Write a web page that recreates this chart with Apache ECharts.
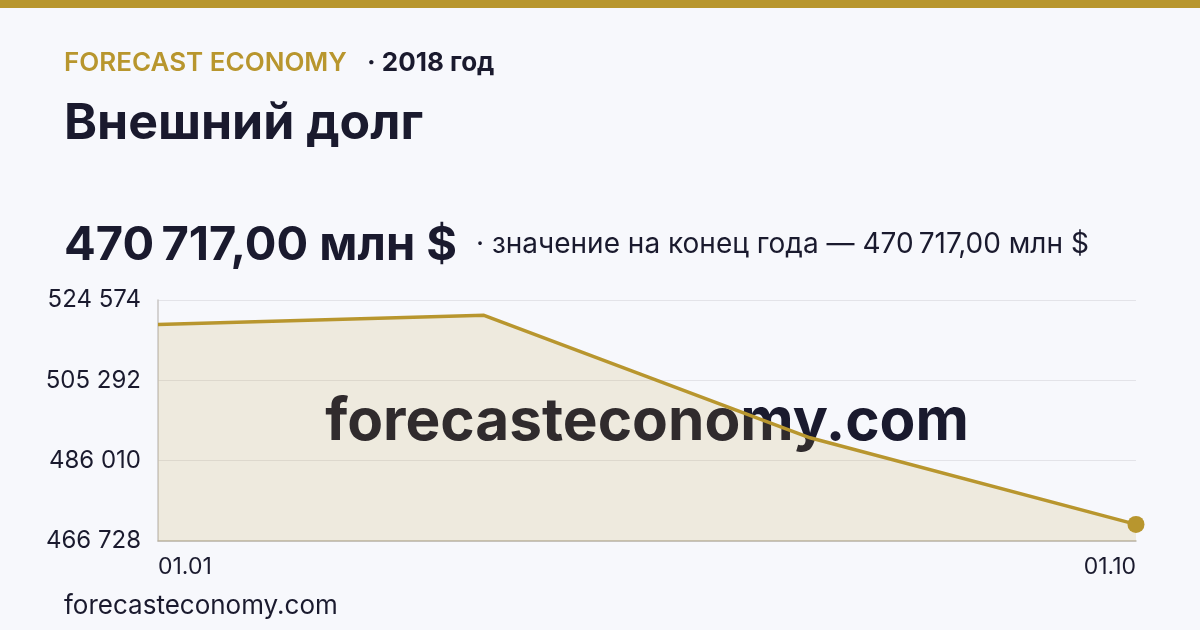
<!DOCTYPE html>
<html><head><meta charset="utf-8">
<script src="https://cdn.jsdelivr.net/npm/echarts@6/dist/echarts.min.js"></script>
<style>html,body{margin:0;padding:0;background:#F7F8FC}#c{width:1200px;height:630px}</style>
</head><body><div id="c"></div>
<script>
const categories = ['01.01', '01.04', '01.07', '01.10'];
const values = [518700, 520900, 491500, 470717];
const yTicks = [466728, 486010, 505292, 524574];
const brand = 'FORECAST ECONOMY';
const yearText = '· 2018 год';
const title = 'Внешний долг';
const bigValue = '470\u202F717,00 млн $';
const subText = '· значение на конец года — 470\u202F717,00 млн $';
const site = 'forecasteconomy.com';

const gold = '#B8962E', dark = '#1A1A2E', font = 'Inter';
const fmt = v => String(Math.round(v)).replace(/\B(?=(\d{3})+(?!\d))/g, ' ');

const chart = echarts.init(document.getElementById('c'));
chart.setOption({
  backgroundColor: '#F7F8FC',
  animation: false,
  textStyle: { fontFamily: font },
  grid: { left: 158, right: 64, top: 300, bottom: 89 },
  xAxis: {
    type: 'category', data: categories, boundaryGap: false,
    axisLine: { lineStyle: { color: '#BDB8AC', width: 1.5 } },
    axisTick: { show: false },
    axisLabel: {
      interval: (i) => i === 0 || i === categories.length - 1,
      color: dark, fontSize: 23, fontFamily: font, margin: 15,
      alignMinLabel: 'left', alignMaxLabel: 'right'
    }
  },
  yAxis: {
    type: 'value', min: yTicks[0], max: yTicks[yTicks.length - 1],
    interval: yTicks[1] - yTicks[0],
    axisLine: { show: true, lineStyle: { color: '#C8C6C4', width: 1.5 } },
    axisTick: { show: false },
    splitLine: { lineStyle: { color: '#E3E3E8', width: 1 } },
    axisLabel: { color: dark, fontSize: 24, fontFamily: font, margin: 17, formatter: fmt }
  },
  series: [{
    type: 'line', data: values, smooth: false, z: 3,
    lineStyle: { color: gold, width: 3.5 },
    areaStyle: { color: gold, opacity: 0.14 },
    symbol: 'circle',
    symbolSize: (v, p) => p.dataIndex === values.length - 1 ? 17 : 0,
    showSymbol: true,
    itemStyle: { color: gold }
  }],
  graphic: [
    { type: 'rect', left: 0, top: 0, shape: { width: 1200, height: 8 }, style: { fill: gold } },
    { type: 'text', z: 10, style: { x: 64, y: 50, text: brand, fill: gold, font: `600 26px ${font}`, verticalAlign: 'top' } },
    { type: 'text', z: 10, style: { x: 367, y: 50, text: yearText, fill: dark, font: `700 26px ${font}`, verticalAlign: 'top' } },
    { type: 'text', z: 10, style: { x: 64, y: 99, text: title, fill: dark, font: `700 50px ${font}`, verticalAlign: 'top' } },
    { type: 'text', z: 10, style: { x: 64, y: 222, text: bigValue, fill: dark, font: `700 47px ${font}`, verticalAlign: 'top' } },
    { type: 'text', z: 10, style: { x: 476, y: 231, text: subText, fill: dark, font: `400 28px ${font}`, verticalAlign: 'top' } },
    { type: 'text', z: 10, style: { x: 64, y: 593, text: site, fill: dark, font: `400 26px ${font}`, verticalAlign: 'top' } },
    { type: 'text', z: 0, silent: true, style: { x: 647, y: 393, text: site, fill: dark, font: `700 58.5px ${font}`, align: 'center', verticalAlign: 'top' } }
  ]
});
</script></body></html>
